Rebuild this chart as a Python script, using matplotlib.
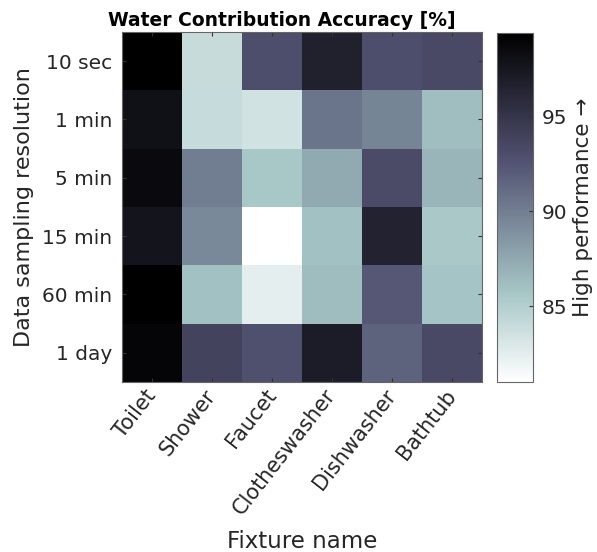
import matplotlib
matplotlib.use('Agg')
import matplotlib.pyplot as plt
import numpy as np
from matplotlib.transforms import ScaledTranslation

plt.rcParams['font.family'] = 'DejaVu Sans'
plt.rcParams['text.color'] = '#262626'
plt.rcParams['axes.labelcolor'] = '#262626'
plt.rcParams['xtick.labelcolor'] = '#262626'
plt.rcParams['ytick.labelcolor'] = '#262626'

fixtures = ['Toilet', 'Shower', 'Faucet', 'Clotheswasher', 'Dishwasher', 'Bathtub']
resolutions = ['10 sec', '1 min', '5 min', '15 min', '60 min', '1 day']

# accuracy [%], rows = sampling resolution, cols = fixture
acc_10sec = [99.4, 83.9, 93.0, 96.6, 93.0, 93.3]
acc_1min  = [98.0, 84.0, 83.4, 90.6, 89.6, 86.2]
acc_5min  = [98.5, 90.0, 85.6, 87.4, 93.2, 86.7]
acc_15min = [97.7, 89.3, 81.0, 86.0, 96.5, 85.5]
acc_60min = [99.4, 86.0, 82.4, 86.3, 92.3, 85.8]
acc_1day  = [98.9, 93.8, 92.8, 97.0, 91.7, 93.3]

data = np.array([acc_10sec, acc_1min, acc_5min, acc_15min, acc_60min, acc_1day])

fig = plt.figure(figsize=(5.97, 5.52), dpi=100)
ax = fig.add_axes([122/597, 1 - 382/552, 360/597, 350/552])
cax = fig.add_axes([497/597, 1 - 382/552, 36/597, 349/552])

im = ax.imshow(data, cmap='bone_r', aspect='auto', interpolation='nearest',
               vmin=data.min(), vmax=data.max())

ax.set_xticks(range(len(fixtures)))
ax.set_xticklabels(fixtures, rotation=52, ha='right', va='center',
                   rotation_mode='anchor')
shift = ScaledTranslation(5/100, 0, fig.dpi_scale_trans)
for lbl in ax.get_xticklabels():
    lbl.set_transform(lbl.get_transform() + shift)
ax.set_yticks(range(len(resolutions)))
ax.set_yticklabels(resolutions)
ax.tick_params(direction='in', top=True, right=True, length=3,
               color='#333333', labelsize=14.5)
ax.tick_params(axis='x', labelsize=15, pad=7)
ax.tick_params(axis='y', pad=7)
for s in ax.spines.values():
    s.set_color('#666666')

ax.set_xlabel('Fixture name', fontsize=16.5, labelpad=8)
ax.set_ylabel('Data sampling resolution', fontsize=16, labelpad=6)
ax.set_title('Water Contribution Accuracy [%]', fontsize=13.5,
             fontweight='bold', pad=4, color='black', x=0.445)

cb = fig.colorbar(im, cax=cax)
cb.set_ticks([85, 90, 95])
cb.ax.tick_params(direction='in', length=3, labelsize=14.5, color='#333333', pad=6)
cb.outline.set_edgecolor('#666666')
cb.set_label('High performance \u2192', fontsize=15.5, labelpad=4)

plt.savefig('out.png', dpi=100)
plt.close()
